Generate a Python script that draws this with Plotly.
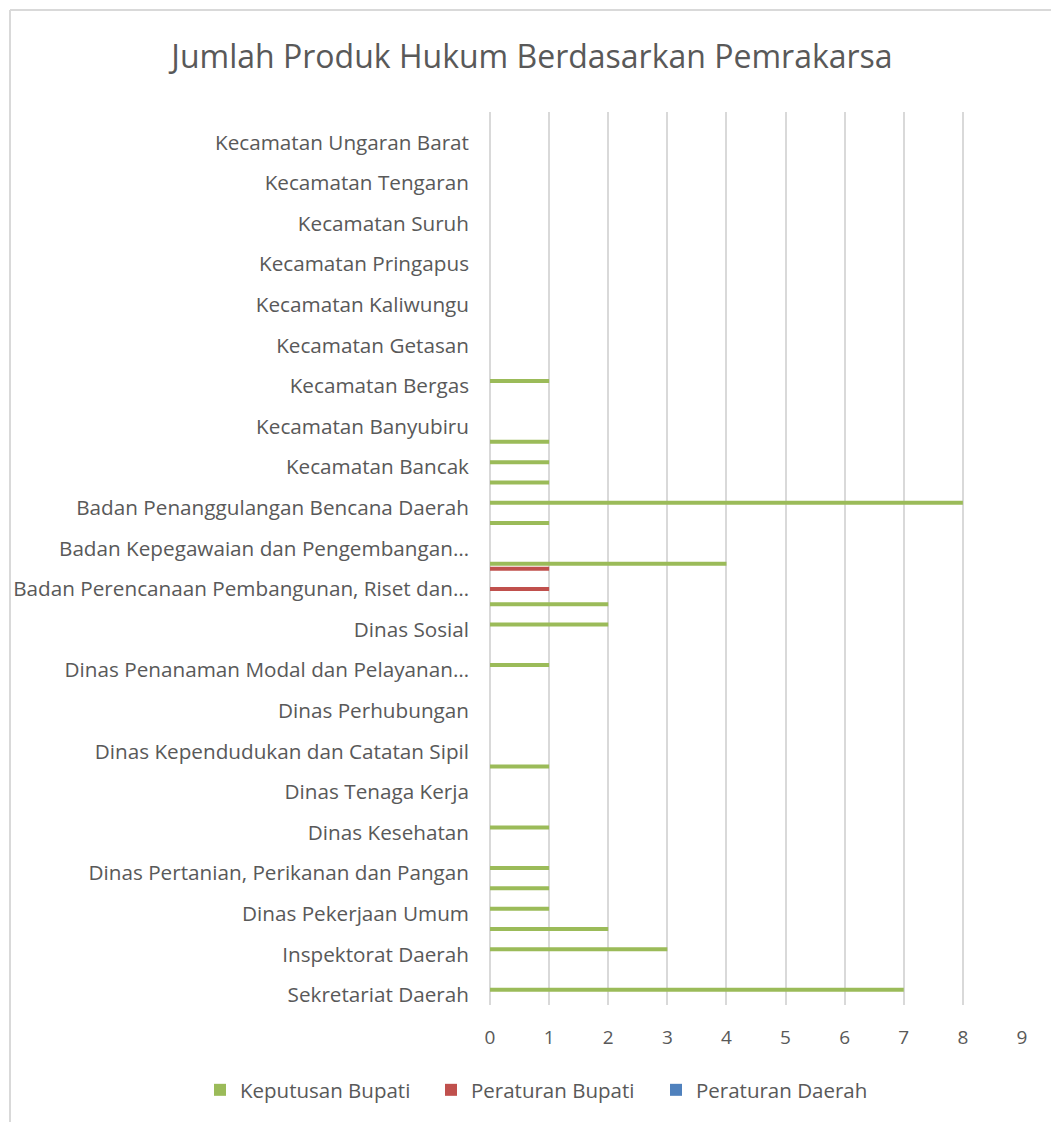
import plotly.graph_objects as go

# Categories listed top-to-bottom as they appear in the chart
categories = [
    "Kecamatan Ungaran Timur",
    "Kecamatan Ungaran Barat",
    "Kecamatan Tuntang",
    "Kecamatan Tengaran",
    "Kecamatan Susukan",
    "Kecamatan Suruh",
    "Kecamatan Sumowono",
    "Kecamatan Pringapus",
    "Kecamatan Pabelan",
    "Kecamatan Kaliwungu",
    "Kecamatan Jambu",
    "Kecamatan Getasan",
    "Kecamatan Bringin",
    "Kecamatan Bergas",
    "Kecamatan Bawen",
    "Kecamatan Banyubiru",
    "Kecamatan Bandungan",
    "Kecamatan Bancak",
    "Kecamatan Ambarawa",
    "Badan Penanggulangan Bencana Daerah",
    "Badan Keuangan Daerah",
    "Badan Kepegawaian dan Pengembangan Sumber Daya Manusia",
    "Badan Kesatuan Bangsa dan Politik",
    "Badan Perencanaan Pembangunan, Riset dan Inovasi Daerah",
    "Dinas Pemberdayaan Masyarakat dan Desa",
    "Dinas Sosial",
    "Dinas Perdagangan",
    "Dinas Penanaman Modal dan Pelayanan Terpadu Satu Pintu",
    "Dinas Komunikasi dan Informatika",
    "Dinas Perhubungan",
    "Dinas Pariwisata",
    "Dinas Kependudukan dan Catatan Sipil",
    "Dinas Lingkungan Hidup",
    "Dinas Tenaga Kerja",
    "Dinas Perumahan dan Kawasan Permukiman",
    "Dinas Kesehatan",
    "Dinas Pendidikan, Kebudayaan, Kepemudaan dan Olahraga",
    "Dinas Pertanian, Perikanan dan Pangan",
    "Dinas Pengendalian Penduduk dan Keluarga Berencana",
    "Dinas Pekerjaan Umum",
    "Satuan Polisi Pamong Praja",
    "Inspektorat Daerah",
    "Sekretariat DPRD",
    "Sekretariat Daerah",
]

keputusan_bupati = [0, 0, 0, 0, 0, 0, 0, 0, 0, 0, 0, 0, 0, 1, 0, 0, 1, 1, 1, 8,
                    1, 0, 4, 0, 2, 2, 0, 1, 0, 0, 0, 0, 1, 0, 0, 1, 0, 1, 1, 1,
                    2, 3, 0, 7]
peraturan_bupati = [0, 0, 0, 0, 0, 0, 0, 0, 0, 0, 0, 0, 0, 0, 0, 0, 0, 0, 0, 0,
                    0, 0, 1, 1, 0, 0, 0, 0, 0, 0, 0, 0, 0, 0, 0, 0, 0, 0, 0, 0,
                    0, 0, 0, 0]
peraturan_daerah = [0] * 44

# Excel shows only every other category label
labeled_categories = [
    "Kecamatan Ungaran Barat",
    "Kecamatan Tengaran",
    "Kecamatan Suruh",
    "Kecamatan Pringapus",
    "Kecamatan Kaliwungu",
    "Kecamatan Getasan",
    "Kecamatan Bergas",
    "Kecamatan Banyubiru",
    "Kecamatan Bancak",
    "Badan Penanggulangan Bencana Daerah",
    "Badan Kepegawaian dan Pengembangan Sumber Daya Manusia",
    "Badan Perencanaan Pembangunan, Riset dan Inovasi Daerah",
    "Dinas Sosial",
    "Dinas Penanaman Modal dan Pelayanan Terpadu Satu Pintu",
    "Dinas Perhubungan",
    "Dinas Kependudukan dan Catatan Sipil",
    "Dinas Tenaga Kerja",
    "Dinas Kesehatan",
    "Dinas Pertanian, Perikanan dan Pangan",
    "Dinas Pekerjaan Umum",
    "Inspektorat Daerah",
    "Sekretariat Daerah",
]
tick_labels = [
    "Kecamatan Ungaran Barat",
    "Kecamatan Tengaran",
    "Kecamatan Suruh",
    "Kecamatan Pringapus",
    "Kecamatan Kaliwungu",
    "Kecamatan Getasan",
    "Kecamatan Bergas",
    "Kecamatan Banyubiru",
    "Kecamatan Bancak",
    "Badan Penanggulangan Bencana Daerah",
    "Badan Kepegawaian dan Pengembangan…",
    "Badan Perencanaan Pembangunan, Riset dan…",
    "Dinas Sosial",
    "Dinas Penanaman Modal dan Pelayanan…",
    "Dinas Perhubungan",
    "Dinas Kependudukan dan Catatan Sipil",
    "Dinas Tenaga Kerja",
    "Dinas Kesehatan",
    "Dinas Pertanian, Perikanan dan Pangan",
    "Dinas Pekerjaan Umum",
    "Inspektorat Daerah",
    "Sekretariat Daerah",
]
x_ticks = [0, 1, 2, 3, 4, 5, 6, 7, 8, 9]

FONT = "Open Sans"
TXT = "#595959"
GRID = "#d9d9d9"

fig = go.Figure()
fig.add_trace(go.Bar(y=categories, x=keputusan_bupati, orientation="h", legend="legend",
                     name="Keputusan Bupati", showlegend=True,
                     marker=dict(color="#9BBB59", line=dict(width=0))))
fig.add_trace(go.Bar(y=categories, x=peraturan_bupati, orientation="h", legend="legend2",
                     name="Peraturan Bupati", showlegend=True,
                     marker=dict(color="#C0504D", line=dict(width=0))))
fig.add_trace(go.Bar(y=categories, x=peraturan_daerah, orientation="h", legend="legend3",
                     name="Peraturan Daerah", showlegend=True,
                     marker=dict(color="#4F81BD", line=dict(width=0))))

W, H = 1051, 1122
L, R, T, B = 490, 29, 112, 117
pw, ph = W - L - R, H - T - B

LEG_Y = 1 - 1090 / H


def leg(px):
    return dict(orientation="h", xref="container", yref="container",
                x=px / W, xanchor="left", y=LEG_Y, yanchor="middle",
                font=dict(family=FONT, size=20.5, color=TXT),
                bgcolor="rgba(0,0,0,0)", borderwidth=0)


fig.update_layout(
    width=W, height=H,
    showlegend=True,
    margin=dict(l=L, r=R, t=T, b=B),
    paper_bgcolor="white", plot_bgcolor="white",
    barmode="group", bargap=0.26, bargroupgap=0.2,
    font=dict(family=FONT, color=TXT, size=19),
    title=dict(text="Jumlah Produk Hukum Berdasarkan Pemrakarsa",
               font=dict(family=FONT, size=32, color=TXT),
               x=532 / W, xref="container", xanchor="center",
               y=1 - 57 / H, yref="container", yanchor="middle"),
    legend=leg(200),
    legend2=leg(431),
    legend3=leg(656),
    xaxis=dict(range=[0, 9], tickvals=x_ticks, showgrid=True, gridcolor=GRID,
               gridwidth=1.5, zeroline=True, zerolinecolor=GRID, zerolinewidth=1.5,
               showline=False, ticks="", ticklabelstandoff=19,
               tickfont=dict(family=FONT, size=19, color=TXT)),
    yaxis=dict(type="category", categoryorder="array", categoryarray=categories,
               autorange="reversed", tickvals=labeled_categories, ticktext=tick_labels,
               showgrid=False, showline=False, ticks="", ticklabelstandoff=20,
               tickfont=dict(family=FONT, size=20.7, color=TXT)),
    shapes=[
        dict(type="line", xref="paper", yref="paper",
             x0=(10 - L) / pw, x1=(1100 - L) / pw,
             y0=1 + (T - 10) / ph, y1=1 + (T - 10) / ph,
             line=dict(color=GRID, width=2)),
        dict(type="line", xref="paper", yref="paper",
             x0=(10 - L) / pw, x1=(10 - L) / pw,
             y0=1 + (T - 10) / ph, y1=(T + ph - 1200) / ph,
             line=dict(color=GRID, width=2)),
    ],
)

fig.write_html("out.html", config={"displayModeBar": False},
               post_script="document.body.style.margin='0';")
